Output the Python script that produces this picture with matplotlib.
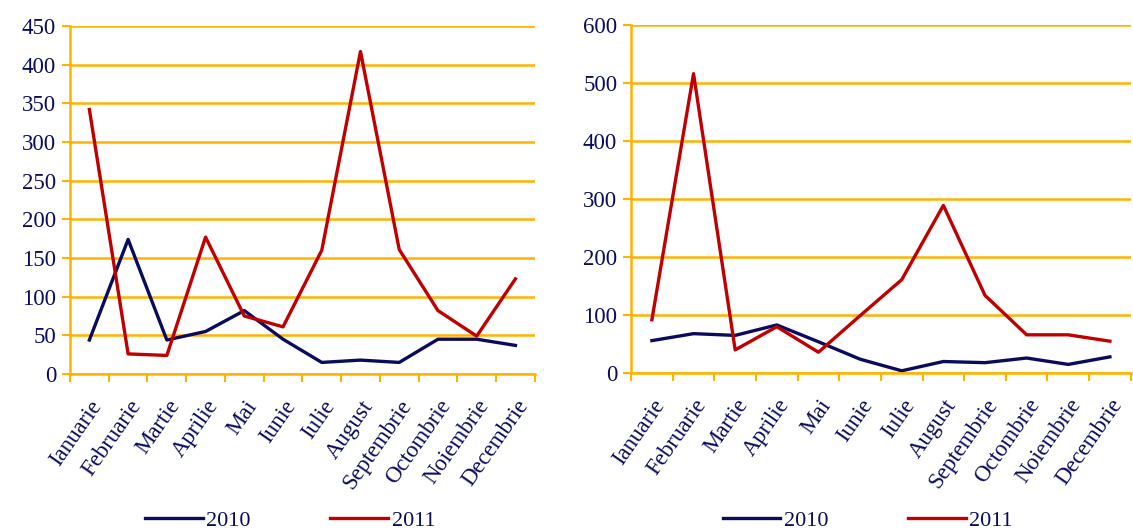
import numpy as np
import matplotlib
matplotlib.use("Agg")
import matplotlib.pyplot as plt

months = ["Ianuarie", "Februarie", "Martie", "Aprilie", "Mai", "Iunie", "Iulie",
          "August", "Septembrie", "Octombrie", "Noiembrie", "Decembrie"]

# left panel
left_2010 = [44, 174, 44, 55, 82, 45, 15, 18, 15, 45, 45, 37]
left_2011 = [342, 26, 24, 177, 75, 61, 160, 417, 161, 82, 49, 123]

# right panel
right_2010 = [56, 68, 65, 83, 54, 24, 4, 20, 18, 26, 15, 28]
right_2011 = [92, 516, 40, 80, 36, 99, 161, 289, 134, 66, 66, 55]

navy = "#0b0b5e"
red = "#c00000"
orange = "#ffb300"

plt.rcParams["font.family"] = ["Liberation Serif", "DejaVu Serif"]

fig = plt.figure(figsize=(11.33, 5.30), dpi=100)
ax1 = fig.add_axes([0.0618, 0.2943, 0.4102, 0.6567])
ax2 = fig.add_axes([0.557, 0.296, 0.441, 0.657])


def style(ax, ymax, step):
    x = np.arange(len(months))
    ax.set_xlim(-0.5, len(months) - 0.5)
    ax.set_ylim(0, ymax)
    ax.set_yticks(np.arange(0, ymax + 1, step))
    ax.set_xticks(x)
    ax.set_xticklabels(months, rotation=55, ha="right", rotation_mode="anchor",
                       fontsize=16.5, color=navy)
    ax.set_xticks(np.arange(-0.5, len(months)), minor=True)
    ax.tick_params(axis="x", which="major", length=0, pad=16)
    ax.tick_params(axis="x", which="minor", length=6, width=1.5, color=orange,
                   direction="out")
    ax.tick_params(axis="y", length=6, width=1.5, color=orange, labelsize=16.5,
                   labelcolor=navy, pad=4)
    ax.grid(axis="y", color=orange, linewidth=1.8)
    ax.set_axisbelow(True)
    for s in ["top", "right"]:
        ax.spines[s].set_visible(False)
    for s in ["left", "bottom"]:
        ax.spines[s].set_color(orange)
        ax.spines[s].set_linewidth(1.8)


for ax, a, b, ymax, step, cx in [(ax1, left_2010, left_2011, 450, 50, 0.256),
                                 (ax2, right_2010, right_2011, 600, 100, 0.766)]:
    x = np.arange(len(months))
    ax.plot(x, a, color=navy, linewidth=2.4, label="2010")
    ax.plot(x, b, color=red, linewidth=2.4, label="2011")
    style(ax, ymax, step)
    ax.legend(loc="center", bbox_to_anchor=(cx, 0.018), bbox_transform=fig.transFigure,
              ncol=2, frameon=False, fontsize=16, handlelength=2.6,
              columnspacing=3.6, handletextpad=0.15, labelcolor=navy)

fig.savefig("out.png", dpi=100)
